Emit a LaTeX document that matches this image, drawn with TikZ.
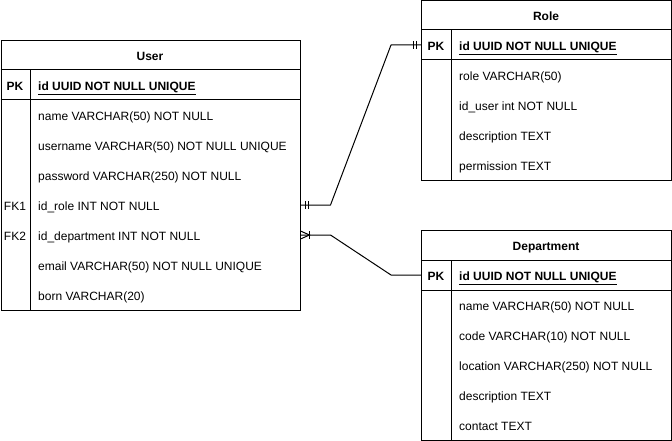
\documentclass[tikz,border=0pt]{standalone}
\usepackage{fontspec}
\setmainfont{Liberation Sans}
\usetikzlibrary{calc}
\begin{document}
\begin{tikzpicture}[x=1pt,y=-1pt,
  tbl/.style={draw, line width=1pt, fill=white, inner sep=0pt, anchor=north west},
  txt/.style={inner sep=0pt, anchor=west, font=\fontsize{12}{14}\selectfont, text height=13.4pt, text depth=2.4pt},
  key/.style={inner sep=0pt, anchor=center, font=\fontsize{12}{14}\selectfont, text height=13.4pt, text depth=2.4pt},
  ttl/.style={key, font=\fontsize{12}{14}\selectfont\bfseries},
  sep/.style={line width=1pt},
  conn/.style={line width=1pt, line join=round}]
\useasboundingbox (0,0) rectangle (672,441);
\fill[white] (0,0) rectangle (672,441);

% ---------- User ----------
\node[tbl, minimum width=299pt, minimum height=270pt] (user) at (0.5,40) {};
\draw[sep] (user.west |- {(0,70)}) -- (user.east |- {(0,70)});
\draw[sep] (user.west |- {(0,100)}) -- (user.east |- {(0,100)});
\draw[sep] (30,70) -- ({(30,0)} |- user.south);
\node[ttl] (utitle) at (150,55) {User};
\node[ttl] (upk) at (15,85) {PK};
\node[txt, font=\fontsize{12}{14}\selectfont\bfseries] (u0) at (38,85) {\underline{id UUID NOT NULL UNIQUE}};
\node[txt] (u1) at (38,115) {name VARCHAR(50) NOT NULL};
\node[txt] (u2) at (38,145) {username VARCHAR(50) NOT NULL UNIQUE};
\node[txt] (u3) at (38,175) {password VARCHAR(250) NOT NULL};
\node[key] (ufk1) at (15,205) {FK1};
\node[txt] (u4) at (38,205) {id\_role INT NOT NULL};
\node[key] (ufk2) at (15,235) {FK2};
\node[txt] (u5) at (38,235) {id\_department INT NOT NULL};
\node[txt] (u6) at (38,265) {email VARCHAR(50) NOT NULL UNIQUE};
\node[txt] (u7) at (38,295) {born VARCHAR(20)};

% ---------- Role ----------
\node[tbl, minimum width=250pt, minimum height=179.5pt] (role) at (421,0.5) {};
\draw[sep] (role.west |- {(0,30)}) -- (role.east |- {(0,30)});
\draw[sep] (role.west |- {(0,60)}) -- (role.east |- {(0,60)});
\draw[sep] (451,30) -- ({(451,0)} |- role.south);
\node[ttl] (rtitle) at (546,15) {Role};
\node[ttl] (rpk) at (436,45) {PK};
\node[txt, font=\fontsize{12}{14}\selectfont\bfseries] (r0) at (459,45) {\underline{id UUID NOT NULL UNIQUE}};
\node[txt] (r1) at (459,75) {role VARCHAR(50)};
\node[txt] (r2) at (459,105) {id\_user int NOT NULL};
\node[txt] (r3) at (459,135) {description TEXT};
\node[txt] (r4) at (459,165) {permission TEXT};

% ---------- Department ----------
\node[tbl, minimum width=250pt, minimum height=210pt] (dept) at (421,230) {};
\draw[sep] (dept.west |- {(0,260)}) -- (dept.east |- {(0,260)});
\draw[sep] (dept.west |- {(0,290)}) -- (dept.east |- {(0,290)});
\draw[sep] (451,260) -- ({(451,0)} |- dept.south);
\node[ttl] (dtitle) at (546,245) {Department};
\node[ttl] (dpk) at (436,275) {PK};
\node[txt, font=\fontsize{12}{14}\selectfont\bfseries] (d0) at (459,275) {\underline{id UUID NOT NULL UNIQUE}};
\node[txt] (d1) at (459,305) {name VARCHAR(50) NOT NULL};
\node[txt] (d2) at (459,335) {code VARCHAR(10) NOT NULL};
\node[txt] (d3) at (459,365) {location VARCHAR(250) NOT NULL};
\node[txt] (d4) at (459,395) {description TEXT};
\node[txt] (d5) at (459,425) {contact TEXT};

% ---------- connectors ----------
\coordinate (uRole) at (user.east |- u4);
\coordinate (rId) at (role.west |- r0);
\coordinate (uDept) at (user.east |- u5);
\coordinate (dId) at (dept.west |- d0);

\draw[conn] (uRole) -- ++(30,0) -- ($(rId)+(-30,0)$) -- (rId);
\draw[conn] (uDept) -- ++(30,0) -- ($(dId)+(-30,0)$) -- (dId);

% one-and-only-one marks
\draw[line width=1pt] ([xshift=4.5pt,yshift=4pt]uRole) -- ++(0,8);
\draw[line width=1pt] ([xshift=7.5pt,yshift=4pt]uRole) -- ++(0,8);
\draw[line width=1pt] ([xshift=-8pt,yshift=4pt]rId) -- ++(0,8);
\draw[line width=1pt] ([xshift=-5pt,yshift=4pt]rId) -- ++(0,8);

% one-or-many mark
\draw[line width=1pt] ([yshift=4pt]uDept) -- ([xshift=9pt]uDept) -- ([yshift=-4pt]uDept);
\draw[line width=1pt] ([xshift=9pt,yshift=4pt]uDept) -- ++(0,8);
\end{tikzpicture}
\end{document}
